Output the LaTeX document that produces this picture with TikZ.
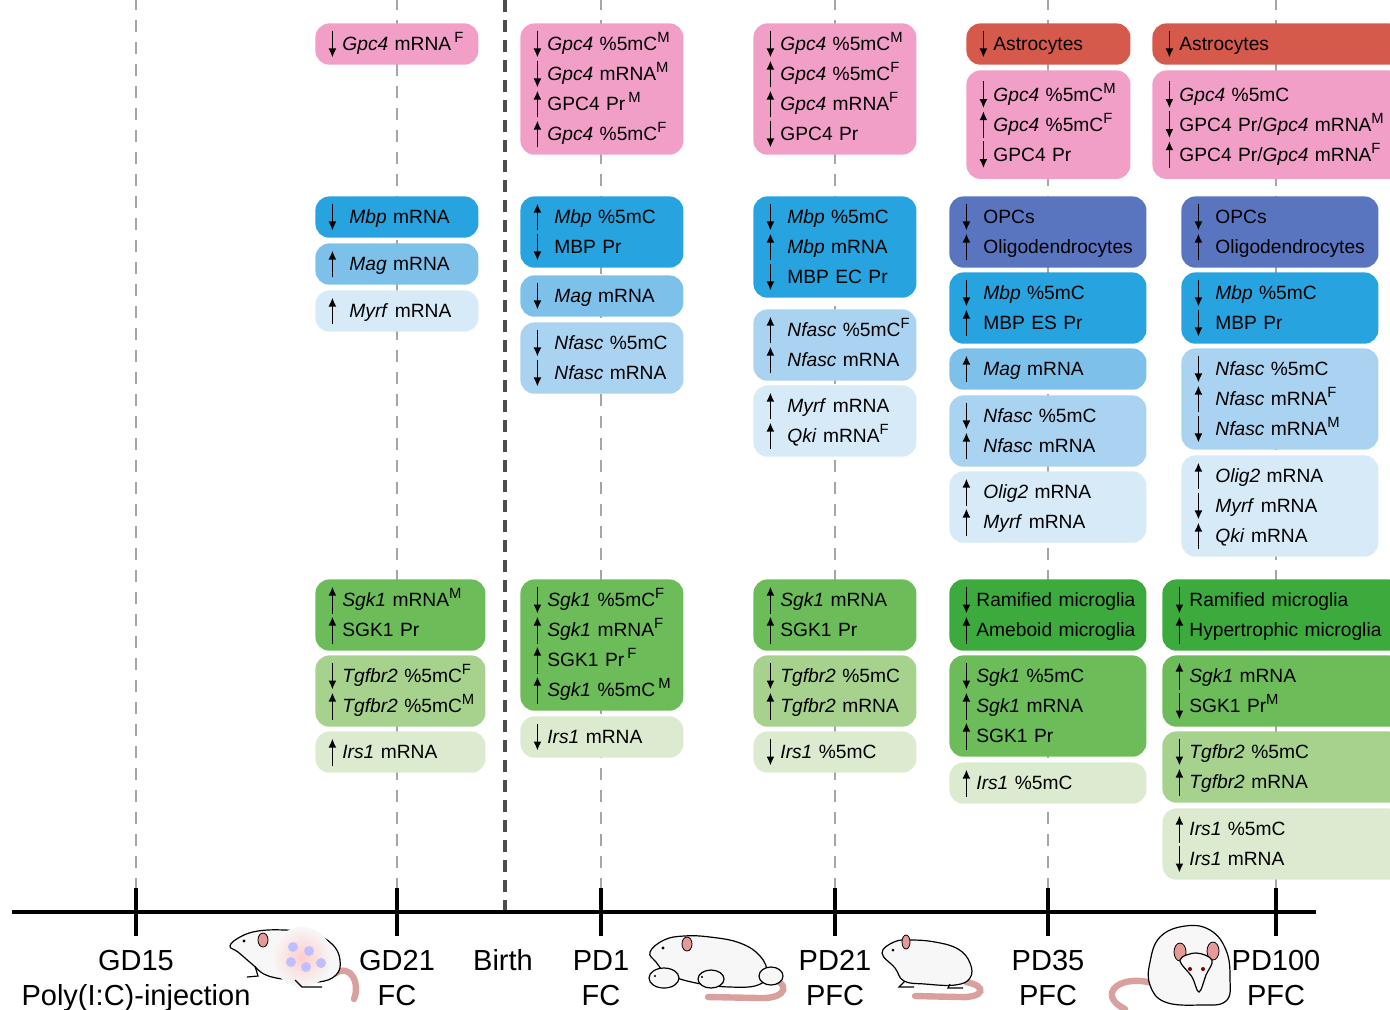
\documentclass[tikz,border=0pt]{standalone}
\usepackage{fontspec}
\setmainfont{Liberation Sans}
\usepackage[HTML]{xcolor}
\usetikzlibrary{arrows.meta}

\definecolor{gpcpink}{HTML}{F29FC7}
\definecolor{astrored}{HTML}{D65A4B}
\definecolor{opcblue}{HTML}{5A75BF}
\definecolor{mbpblue}{HTML}{27A4DF}
\definecolor{magblue}{HTML}{7DC1EA}
\definecolor{nfascblue}{HTML}{A9D3F0}
\definecolor{myrfblue}{HTML}{D7EAF8}
\definecolor{microgreen}{HTML}{3DAA3E}
\definecolor{sgkgreen}{HTML}{6CBC59}
\definecolor{tgfgreen}{HTML}{A6D28D}
\definecolor{irsgreen}{HTML}{DCEBD0}
\definecolor{earpink}{HTML}{E59A98}
\definecolor{tailpink}{HTML}{D9A19E}

% up / down arrows in front of each entry
\newlength{\argap}
\setlength{\argap}{2.5pt}
\newcommand{\arrup}{\hspace*{3pt}\tikz[baseline=0pt]{\path (0pt,0pt) (5pt,0pt);
  \draw[line width=0.8pt,-{Latex[length=4.5pt,width=4pt]}] (2.5pt,-0.35em) -- (2.5pt,1.05em);}\hspace{\argap}}
\newcommand{\arrdn}{\hspace*{3pt}\tikz[baseline=0pt]{\path (0pt,0pt) (5pt,0pt);
  \draw[line width=0.8pt,-{Latex[length=4.5pt,width=4pt]}] (2.5pt,1.05em) -- (2.5pt,-0.35em);}\hspace{\argap}}
% sex marks (M / F)
\newcommand{\supr}[1]{\raisebox{0.42em}{\fontsize{7.4}{8}\selectfont #1}}

\begin{document}
\begin{tikzpicture}[x=0.5pt, y=-0.5pt,
  guide/.style={gray!70, line width=1.1pt, dash pattern=on 6pt off 5pt},
  birth/.style={black!70, line width=2pt, dash pattern=on 6pt off 4pt},
  tick/.style={line width=1.8pt},
  tlab/.style={anchor=base, inner sep=0pt, font=\fontsize{14.5}{17}\selectfont},
  cell/.style={fill=#1, rounded corners=7pt, anchor=north west, align=left,
    inner xsep=3pt, inner ysep=3.2pt, font=\fontsize{9.6}{15}\selectfont,
    execute at begin node={\hyphenpenalty=10000\relax}},
  wide/.style={cell=#1, execute at begin node={\hyphenpenalty=10000\relax\setlength{\argap}{6pt}}},
  mouse/.style={draw=black, line width=0.6pt, fill=gray!6},
  ear/.style={draw=black, line width=0.4pt, fill=earpink},
  tail/.style={line width=3.2pt, tailpink, line cap=round}]
\useasboundingbox (0,0) rectangle (1390,1009);

% --- time points ---
\foreach \n/\x in {gd15/136, gd21/397, pd1/601, pd21/835, pd35/1048, pd100/1276}{
  \coordinate (\n) at (\x,912);
  \draw[guide] (\n) -- ++(0,-912);
}
\coordinate (birth) at (505,912);
\draw[birth] (birth) -- ++(0,-912);

% --- GD21 ---
\node[cell=gpcpink, text width=75.5pt] (g21-gpc) at (315,23) {\arrdn \textit{Gpc4} mRNA\,\supr{F}};
\node[wide=mbpblue, text width=75.5pt] (g21-mbp) at (315,196) {\arrdn \textit{Mbp} mRNA};
\node[wide=magblue, text width=75.5pt] (g21-mag) at (315,243) {\arrup \textit{Mag} mRNA};
\node[wide=myrfblue, text width=75.5pt] (g21-myrf) at (315,290) {\arrup \textit{Myrf} mRNA};
\node[cell=sgkgreen, text width=79pt] (g21-sgk) at (315,579) {\arrup \textit{Sgk1} mRNA\supr{M}\\ \arrup SGK1 Pr};
\node[cell=tgfgreen, text width=79pt] (g21-tgf) at (315,655) {\arrdn \textit{Tgfbr2} \%5mC\supr{F}\\ \arrup \textit{Tgfbr2} \%5mC\supr{M}};
\node[cell=irsgreen, text width=79pt] (g21-irs) at (315,731) {\arrup \textit{Irs1} mRNA};

% --- PD1 ---
\node[cell=gpcpink, text width=75.5pt] (p1-gpc) at (520,23) {\arrdn \textit{Gpc4} \%5mC\supr{M}\\ \arrdn \textit{Gpc4} mRNA\supr{M}\\ \arrup GPC4 Pr\,\supr{M}\\ \arrup \textit{Gpc4} \%5mC\supr{F}};
\node[wide=mbpblue, text width=75.5pt] (p1-mbp) at (520,196) {\arrup \textit{Mbp} \%5mC\\ \arrdn MBP Pr};
\node[wide=magblue, text width=75.5pt] (p1-mag) at (520,275) {\arrdn \textit{Mag} mRNA};
\node[wide=nfascblue, text width=75.5pt] (p1-nfasc) at (520,322) {\arrdn \textit{Nfasc} \%5mC\\ \arrdn \textit{Nfasc} mRNA};
\node[cell=sgkgreen, text width=75.5pt] (p1-sgk) at (520,579) {\arrdn \textit{Sgk1} \%5mC\supr{F}\\ \arrup \textit{Sgk1} mRNA\supr{F}\\ \arrup SGK1 Pr\,\supr{F}\\ \arrup \textit{Sgk1} \%5mC\,\supr{M}};
\node[cell=irsgreen, text width=75.5pt] (p1-irs) at (520,716) {\arrdn \textit{Irs1} mRNA};

% --- PD21 ---
\node[cell=gpcpink, text width=75.5pt] (p21-gpc) at (753,23) {\arrdn \textit{Gpc4} \%5mC\supr{M}\\ \arrup \textit{Gpc4} \%5mC\supr{F}\\ \arrup \textit{Gpc4} mRNA\supr{F}\\ \arrdn GPC4 Pr};
\node[wide=mbpblue, text width=75.5pt] (p21-mbp) at (753,196) {\arrdn \textit{Mbp} \%5mC\\ \arrup \textit{Mbp} mRNA\\ \arrdn MBP EC Pr};
\node[wide=nfascblue, text width=75.5pt] (p21-nfasc) at (753,309) {\arrup \textit{Nfasc} \%5mC\supr{F}\\ \arrup \textit{Nfasc} mRNA};
\node[wide=myrfblue, text width=75.5pt] (p21-myrf) at (753,385) {\arrup \textit{Myrf} mRNA\\ \arrup \textit{Qki} mRNA\supr{F}};
\node[cell=sgkgreen, text width=75.5pt] (p21-sgk) at (753,579) {\arrup \textit{Sgk1} mRNA\\ \arrup SGK1 Pr};
\node[cell=tgfgreen, text width=75.5pt] (p21-tgf) at (753,655) {\arrdn \textit{Tgfbr2} \%5mC\\ \arrup \textit{Tgfbr2} mRNA};
\node[cell=irsgreen, text width=75.5pt] (p21-irs) at (753,731) {\arrdn \textit{Irs1} \%5mC};

% --- PD35 ---
\node[cell=astrored, text width=76pt] (p35-astro) at (966,23) {\arrdn Astrocytes};
\node[cell=gpcpink, text width=76pt, inner ysep=5pt] (p35-gpc) at (966,70) {\arrdn \textit{Gpc4} \%5mC\supr{M}\\ \arrup \textit{Gpc4} \%5mC\supr{F}\\ \arrdn GPC4 Pr};
\node[wide=opcblue, text width=92.5pt] (p35-opc) at (949,196) {\arrdn OPCs\\ \arrup Oligodendrocytes};
\node[wide=mbpblue, text width=92.5pt] (p35-mbp) at (949,272) {\arrdn \textit{Mbp} \%5mC\\ \arrup MBP ES Pr};
\node[wide=magblue, text width=92.5pt] (p35-mag) at (949,348) {\arrup \textit{Mag} mRNA};
\node[wide=nfascblue, text width=92.5pt] (p35-nfasc) at (949,395) {\arrdn \textit{Nfasc} \%5mC\\ \arrup \textit{Nfasc} mRNA};
\node[wide=myrfblue, text width=92.5pt] (p35-olig) at (949,471) {\arrup \textit{Olig2} mRNA\\ \arrup \textit{Myrf} mRNA};
\node[cell=microgreen, text width=92.5pt] (p35-micro) at (949,579) {\arrdn Ramified microglia\\ \arrup Ameboid microglia};
\node[cell=sgkgreen, text width=92.5pt] (p35-sgk) at (949,655) {\arrdn \textit{Sgk1} \%5mC\\ \arrup \textit{Sgk1} mRNA\\ \arrup SGK1 Pr};
\node[cell=irsgreen, text width=92.5pt] (p35-irs) at (949,762) {\arrup \textit{Irs1} \%5mC};

% --- PD100 ---
\node[cell=astrored, text width=119pt] (p100-astro) at (1152,23) {\arrdn Astrocytes};
\node[cell=gpcpink, text width=119pt, inner ysep=5pt] (p100-gpc) at (1152,70) {\arrdn \textit{Gpc4} \%5mC\\ \arrdn GPC4 Pr/\textit{Gpc4} mRNA\supr{M}\\ \arrup GPC4 Pr/\textit{Gpc4} mRNA\supr{F}};
\node[wide=opcblue, text width=92.5pt] (p100-opc) at (1181,196) {\arrdn OPCs\\ \arrup Oligodendrocytes};
\node[wide=mbpblue, text width=92.5pt] (p100-mbp) at (1181,272) {\arrdn \textit{Mbp} \%5mC\\ \arrdn MBP Pr};
\node[wide=nfascblue, text width=92.5pt] (p100-nfasc) at (1181,348) {\arrdn \textit{Nfasc} \%5mC\\ \arrup \textit{Nfasc} mRNA\supr{F}\\ \arrdn \textit{Nfasc} mRNA\supr{M}};
\node[wide=myrfblue, text width=92.5pt] (p100-olig) at (1181,455) {\arrup \textit{Olig2} mRNA\\ \arrdn \textit{Myrf} mRNA\\ \arrup \textit{Qki} mRNA};
\node[cell=microgreen, text width=114pt] (p100-micro) at (1162,579) {\arrdn Ramified microglia\\ \arrup Hypertrophic microglia};
\node[cell=sgkgreen, text width=114pt] (p100-sgk) at (1162,655) {\arrup \textit{Sgk1} mRNA\\ \arrdn SGK1 Pr\supr{M}};
\node[cell=tgfgreen, text width=114pt] (p100-tgf) at (1162,731) {\arrdn \textit{Tgfbr2} \%5mC\\ \arrup \textit{Tgfbr2} mRNA};
\node[cell=irsgreen, text width=114pt] (p100-irs) at (1162,808) {\arrup \textit{Irs1} \%5mC\\ \arrdn \textit{Irs1} mRNA};

% --- time axis ---
\coordinate (t0) at (12,912);
\coordinate (t1) at (1316,912);
\draw[tick] (t0) -- (t1);
\foreach \n in {gd15, gd21, pd1, pd21, pd35, pd100}
  \draw[tick] ([yshift=12pt]\n) -- ([yshift=-12pt]\n);

\node[tlab] (l-gd15) at (136,970) {GD15};
\node[tlab] (s-gd15) at (136,1005) {Poly(I:C)-injection};
\node[tlab] (l-gd21) at (397,970) {GD21};
\node[tlab] (s-gd21) at (397,1005) {FC};
\node[tlab] (l-birth) at (503,970) {Birth};
\node[tlab] (l-pd1) at (601,970) {PD1};
\node[tlab] (s-pd1) at (601,1005) {FC};
\node[tlab] (l-pd21) at (835,970) {PD21};
\node[tlab] (s-pd21) at (835,1005) {PFC};
\node[tlab] (l-pd35) at (1048,970) {PD35};
\node[tlab] (s-pd35) at (1048,1005) {PFC};
\node[tlab] (l-pd100) at (1276,970) {PD100};
\node[tlab] (s-pd100) at (1276,1005) {PFC};

% --- pregnant dam ---
\draw[tail] (334,974) .. controls (352,962) and (360,985) .. (354,999);
\draw[mouse] plot[smooth cycle, tension=0.7] coordinates{(230,946) (240,937) (258,931) (285,930)
  (312,933) (332,944) (340,960) (336,975) (318,982) (290,980) (266,975) (252,964) (238,952)};
\shade[inner color=red!20, outer color=gray!6] (302,957) circle (30);
\foreach \p in {(293,947), (309,951), (291,962), (306,967), (321,963)}
  \fill[blue!25] \p circle (5);
\draw[ear] (263,940) ellipse (5 and 7);
\fill (244,941) circle (1.6);
\draw[line width=0.6pt] (255,966) -- (258,976) -- (247,977);
\draw[line width=0.6pt] (295,980) -- (302,987) -- (322,987);

% --- dam with pups ---
\draw[tail] (766,977) .. controls (792,982) and (788,999) .. (760,998) -- (708,997);
\draw[mouse] plot[smooth cycle, tension=0.7] coordinates{(650,952) (664,940) (684,936) (710,937)
  (740,943) (760,956) (767,973) (758,985) (730,987) (696,983) (668,974) (656,962)};
\draw[ear] (687,944) ellipse (5 and 7);
\fill (663,948) circle (1.6);
\draw[mouse] (664,978) ellipse (15 and 10);
\draw[mouse] (711,979) ellipse (13 and 9);
\draw[mouse] (771,976) ellipse (12 and 9);
\fill (655,976) circle (1.2) (702,977) circle (1.2);

% --- weanling ---
\draw[tail] (966,982) .. controls (988,986) and (984,998) .. (960,997) -- (915,996);
\draw[mouse] plot[smooth cycle, tension=0.7] coordinates{(882,953) (894,942) (910,940) (935,942)
  (958,949) (970,963) (970,978) (955,985) (925,984) (904,981) (895,968)};
\draw[ear] (906,942) ellipse (4 and 7);
\fill (893,950) circle (1.5);
\draw[line width=0.6pt] (905,981) -- (899,987) -- (914,987);
\draw[line width=0.6pt] (950,984) -- (948,988) -- (963,988);

% --- adult ---
\draw[tail] (1162,986) .. controls (1120,970) and (1095,995) .. (1125,1009);
\draw[mouse] plot[smooth cycle, tension=0.7] coordinates{(1150,962) (1160,937) (1185,926) (1210,930)
  (1226,950) (1230,978) (1226,1001) (1200,1005) (1165,1002) (1150,985)};
\draw[ear] (1180,952) ellipse (6 and 9);
\draw[ear] (1213,951) ellipse (6 and 9);
\draw[mouse] plot[smooth cycle, tension=0.6] coordinates{(1180,960) (1196,953) (1212,960)
  (1206,975) (1199,992) (1192,977)};
\fill[red!50!black] (1190,969) circle (2) (1203,969) circle (2);
\end{tikzpicture}
\end{document}
